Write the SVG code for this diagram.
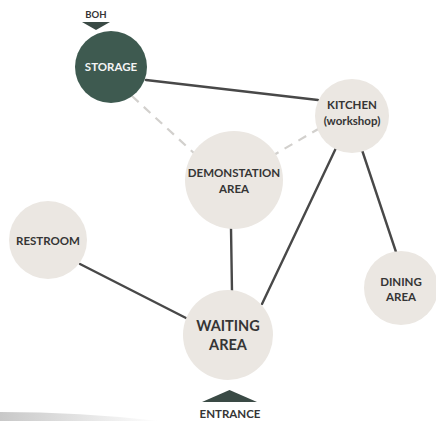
<svg xmlns="http://www.w3.org/2000/svg" width="436" height="421" viewBox="0 0 436 421">
<defs>
<style>
.node{fill:#ebe7e2}
.dark{fill:#3e5a50}
.lbl{font-family:Lato,"Open Sans","Liberation Sans",sans-serif;font-weight:700;font-size:11.5px;fill:#353535;text-anchor:middle}
.big{font-size:14.5px}
.wht{fill:#f4f4f4}
.line{stroke:#484848;stroke-width:2.4;fill:none;stroke-linecap:round}
.dash{stroke:#d2d0cd;stroke-width:2.2;fill:none;stroke-dasharray:9 7}
.mark{fill:#3a4a45}
</style>
<linearGradient id="curl" x1="0" y1="0" x2="1" y2="0">
<stop offset="0" stop-color="#c8c8c8"/>
<stop offset="1" stop-color="#ffffff"/>
</linearGradient>
</defs>
<rect width="436" height="421" fill="#ffffff"/>
<path d="M0 412 Q80 412 160 421 L0 421 Z" fill="url(#curl)"/>
<g id="connectors">
<line class="line" x1="146" y1="80" x2="318" y2="100"/>
<line class="line" x1="362" y1="150" x2="396" y2="252"/>
<line class="line" x1="336" y1="148" x2="262" y2="304"/>
<line class="line" x1="231" y1="228" x2="232" y2="292"/>
<line class="line" x1="80" y1="264" x2="186" y2="318"/>
<line class="dash" x1="132" y1="96" x2="196" y2="155"/>
<line class="dash" x1="320" y1="128" x2="272" y2="156"/>
</g>
<g id="boh">
<text class="lbl" x="96" y="18" style="font-size:9.5px">BOH</text>
<polygon class="mark" points="82,22 110,22 96,30"/>
</g>
<g id="storage">
<circle class="dark" cx="111" cy="67" r="36"/>
<text class="lbl wht" x="111" y="71">STORAGE</text>
</g>
<g id="kitchen">
<circle class="node" cx="352" cy="116" r="37"/>
<text class="lbl" x="352" y="109">KITCHEN</text>
<text class="lbl" x="352" y="125">(workshop)</text>
</g>
<g id="demonstration">
<circle class="node" cx="234" cy="180" r="49"/>
<text class="lbl" x="234" y="177">DEMONSTATION</text>
<text class="lbl" x="234" y="193">AREA</text>
</g>
<g id="restroom">
<circle class="node" cx="48" cy="240" r="39"/>
<text class="lbl" x="48" y="245">RESTROOM</text>
</g>
<g id="dining">
<circle class="node" cx="401" cy="288" r="37"/>
<text class="lbl" x="401" y="286">DINING</text>
<text class="lbl" x="401" y="301">AREA</text>
</g>
<g id="waiting">
<circle class="node" cx="228" cy="335" r="45"/>
<text class="lbl big" x="228" y="331">WAITING</text>
<text class="lbl big" x="228" y="350">AREA</text>
</g>
<g id="entrance">
<polygon class="mark" points="202,402 257,402 229.5,390"/>
<text class="lbl" x="230" y="418">ENTRANCE</text>
</g>
</svg>
